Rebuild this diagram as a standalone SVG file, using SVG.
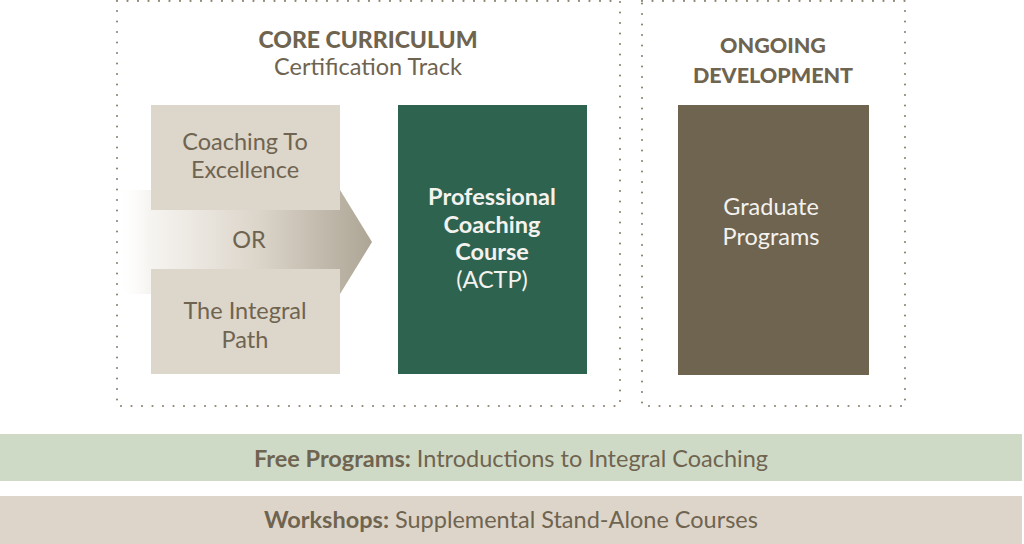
<svg xmlns="http://www.w3.org/2000/svg" width="1024" height="544" viewBox="0 0 1024 544">
<defs>
<linearGradient id="arrowGrad" x1="117" y1="0" x2="372" y2="0" gradientUnits="userSpaceOnUse">
<stop offset="0" stop-color="#ffffff" stop-opacity="0"/>
<stop offset="0.12" stop-color="#f7f5f2"/>
<stop offset="0.55" stop-color="#dcd5ca"/>
<stop offset="1" stop-color="#ada595"/>
</linearGradient>
<style>
.dot{fill:none;stroke:#8f8574;stroke-width:2.2;stroke-dasharray:0 10.5;stroke-linecap:round}
.t{font-family:"Lato","Open Sans","Liberation Sans",sans-serif;text-anchor:middle}
.br{fill:#6f6450}
.wh{fill:#f4f2ee}
.b{font-weight:bold}
.h{font-weight:900;font-size:21.5px}
.n{font-size:23.5px}
.band{font-size:23.5px}
</style>
</defs>
<rect width="1024" height="544" fill="#ffffff"/>
<g id="core-curriculum-frame">
<rect class="dot" x="117" y="1" width="503" height="405"/>
<text class="t br h" x="368" y="48" style="font-size:23px">CORE CURRICULUM</text>
<text class="t br n" x="368" y="75">Certification Track</text>
</g>
<g id="ongoing-frame">
<rect class="dot" x="642" y="1" width="263" height="405"/>
<text class="t br h" x="773" y="53">ONGOING</text>
<text class="t br h" x="773" y="83">DEVELOPMENT</text>
</g>
<g id="connectors">
<path d="M117 190 H340 L372 242 L340 294 H117 Z" fill="url(#arrowGrad)"/>
<text class="t br n" x="249" y="248">OR</text>
</g>
<g id="coaching-to-excellence">
<rect x="151" y="105" width="189" height="105" fill="#ddd6cb"/>
<text class="t br n" x="245" y="150">Coaching To</text>
<text class="t br n" x="245" y="178">Excellence</text>
</g>
<g id="integral-path">
<rect x="151" y="269" width="189" height="105" fill="#ddd6cb"/>
<text class="t br n" x="245" y="319">The Integral</text>
<text class="t br n" x="245" y="348">Path</text>
</g>
<g id="professional-coaching">
<rect x="398" y="105" width="189" height="269" fill="#2e6350"/>
<text class="t wh n b" x="492" y="205">Professional</text>
<text class="t wh n b" x="492" y="233">Coaching</text>
<text class="t wh n b" x="492" y="260">Course</text>
<text class="t wh n" x="492" y="288">(ACTP)</text>
</g>
<g id="graduate-programs">
<rect x="678" y="105" width="191" height="270" fill="#6f6450"/>
<text class="t wh n" x="771" y="215">Graduate</text>
<text class="t wh n" x="771" y="245">Programs</text>
</g>
<g id="free-programs">
<rect x="0" y="434" width="1022" height="47" fill="#cfdac6"/>
<text class="t br band" x="511" y="467"><tspan class="b">Free Programs:</tspan> Introductions to Integral Coaching</text>
</g>
<g id="workshops">
<rect x="0" y="496" width="1022" height="48" fill="#ddd5ca"/>
<text class="t br band" x="511" y="528"><tspan class="b">Workshops:</tspan> Supplemental Stand-Alone Courses</text>
</g>
</svg>
